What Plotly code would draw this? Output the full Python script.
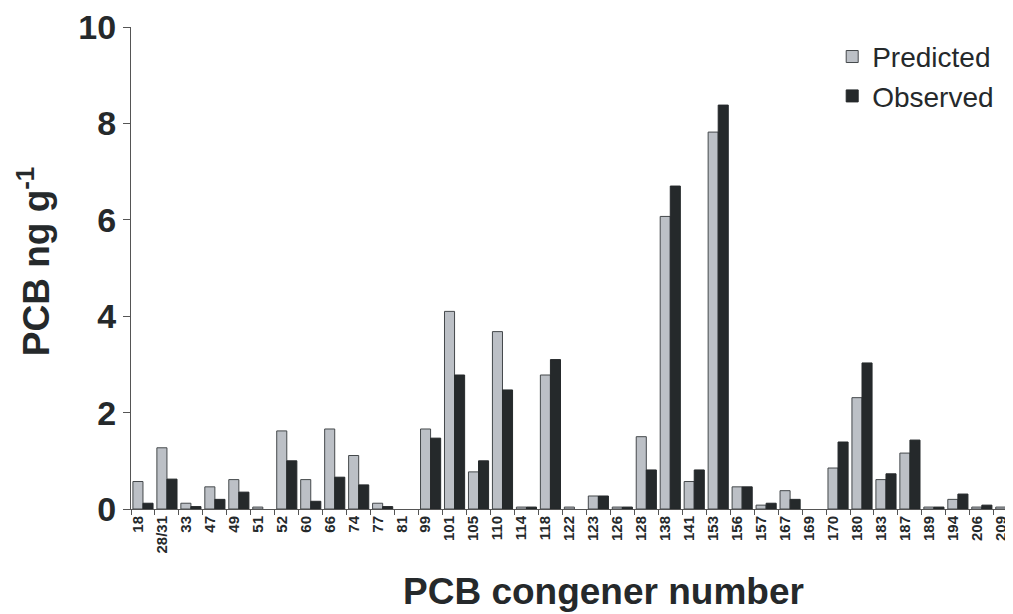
import plotly.graph_objects as go

categories = ["18", "28/31", "33", "47", "49", "51", "52", "60", "66", "74", "77", "81",
              "99", "101", "105", "110", "114", "118", "122", "123", "126", "128", "138",
              "141", "153", "156", "157", "167", "169", "170", "180", "183", "187", "189",
              "194", "206", "209"]
predicted = [0.57, 1.27, 0.12, 0.46, 0.61, 0.04, 1.62, 0.61, 1.66, 1.11, 0.12, None,
             1.66, 4.1, 0.77, 3.68, 0.04, 2.78, 0.04, 0.27, 0.04, 1.5, 6.07,
             0.57, 7.82, 0.46, 0.08, 0.38, None, 0.85, 2.31, 0.61, 1.16, 0.04,
             0.2, 0.04, 0.04]
observed = [0.12, 0.62, 0.05, 0.2, 0.35, None, 1.0, 0.16, 0.66, 0.5, 0.05, None,
            1.47, 2.78, 1.0, 2.47, 0.04, 3.1, None, 0.27, 0.04, 0.81, 6.7,
            0.81, 8.38, 0.46, 0.12, 0.2, None, 1.39, 3.03, 0.73, 1.43, 0.04,
            0.31, 0.08, 0.04]

x_title = "PCB congener number"
y_title = "PCB ng g<sup>-1</sup>"

font_family = "Liberation Sans, Arial, sans-serif"
ink = "#25292b"

fig = go.Figure()
fig.add_trace(go.Bar(x=categories, y=predicted, name="Predicted", legendgroup="p",
                     marker=dict(color="#bcc0c6", line=dict(color="#44484b", width=1))))
fig.add_trace(go.Bar(x=categories, y=observed, name="Observed", legendgroup="o",
                     marker=dict(color=ink, line=dict(color=ink, width=1))))

fig.update_layout(
    width=1005, height=606,
    margin=dict(l=123, r=0, t=17, b=105),
    paper_bgcolor="white", plot_bgcolor="white",
    barmode="group", bargap=0.16, bargroupgap=0.0,
    font=dict(family=font_family, color=ink),
    showlegend=True,
    legend=dict(x=0.795, y=0.99, xanchor="left", yanchor="top",
                font=dict(size=28, family=font_family, color=ink),
                bgcolor="rgba(0,0,0,0)", tracegroupgap=0),
    xaxis=dict(
        type="category", tickangle=-90, tickson="boundaries",
        range=[-0.5, 36.3],
        ticks="outside", ticklen=5, tickcolor="#555",
        showline=True, linecolor="#555", linewidth=1,
        tickfont=dict(size=15, family=font_family, color=ink, weight="bold"),
        ticklabelshift=-5, ticklabeloverflow="allow",
        showgrid=False,
    ),
    yaxis=dict(
        range=[0, 10], dtick=2, ticks="outside", ticklen=7, tickcolor="#555",
        showline=True, linecolor="#555", linewidth=1, showgrid=False, zeroline=False,
        ticklabeloverflow="allow",
        tickfont=dict(size=34, family=font_family, color=ink, weight="bold"),
    ),
    annotations=[
        dict(text="<b>" + x_title + "</b>", xref="paper", yref="paper",
             x=0.536, y=-0.1715, xanchor="center", yanchor="middle", showarrow=False,
             font=dict(size=37, family=font_family, color=ink)),
        dict(text="<b>" + y_title + "</b>", xref="paper", yref="paper",
             x=-0.110, y=0.514, xanchor="center", yanchor="middle", showarrow=False,
             textangle=-90, font=dict(size=37, family=font_family, color=ink)),
    ],
)

fig.write_html("out.html")
